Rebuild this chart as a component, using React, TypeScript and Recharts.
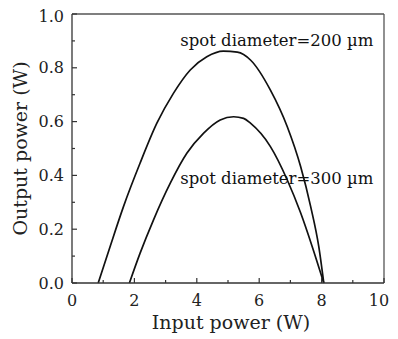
import { LineChart, Line, XAxis, YAxis, ReferenceLine, ReferenceDot } from "recharts"

// spot diameter = 200 µm
const inputA = [0.84, 1.22, 1.65, 2.18, 2.72, 3.25, 3.79, 4.32, 4.85, 5.3, 5.72, 6.36, 6.9, 7.33, 7.65, 7.91, 8.07]
const outputA = [0, 0.135, 0.284, 0.445, 0.594, 0.705, 0.792, 0.841, 0.862, 0.858, 0.829, 0.717, 0.581, 0.432, 0.284, 0.135, 0]

// spot diameter = 300 µm
const inputB = [1.84, 2.18, 2.61, 3.15, 3.68, 4.22, 4.75, 5.18, 5.5, 5.72, 6.36, 6.9, 7.33, 7.7, 8.07]
const outputB = [0, 0.11, 0.234, 0.371, 0.482, 0.557, 0.606, 0.618, 0.612, 0.594, 0.507, 0.383, 0.26, 0.135, 0]

const xTicks = [0, 1, 2, 3, 4, 5, 6, 7, 8, 9, 10]
const yTicks = [0, 0.1, 0.2, 0.3, 0.4, 0.5, 0.6, 0.7, 0.8, 0.9, 1.0]
const labelA = "spot diameter=200 µm"
const labelB = "spot diameter=300 µm"

const seriesA = inputA.map((x, i) => ({ x, y: outputA[i] }))
const seriesB = inputB.map((x, i) => ({ x, y: outputB[i] }))

const FONT = "'DejaVu Serif', serif"
const AXIS = "#333"

function XTick(props: any) {
  const { x, y, payload } = props
  const v = payload.value
  const major = v % 2 === 0
  // last label pulled in a bit so it stays inside the picture
  const tx = v === 10 ? x - 5 : x
  return (
    <g>
      <line x1={x} x2={x} y1={y} y2={y - (major ? 5 : 3)} stroke={AXIS} strokeWidth={1.2} />
      {major && (
        <text x={tx} y={y + 17} dy="0.35em" textAnchor="middle" fontFamily={FONT} fontSize={16} fill="#222">
          {v}
        </text>
      )}
    </g>
  )
}

function YTick(props: any) {
  const { x, y, payload } = props
  const v = payload.value
  const major = Math.round(v * 10) % 2 === 0
  // top label sits a little lower, like the original
  const ty = v === 1 ? y + 2 : y
  return (
    <g>
      <line x1={x} x2={x + (major ? 5 : 3)} y1={y} y2={y} stroke={AXIS} strokeWidth={1.2} />
      {major && (
        <text x={x - 8} y={ty} dy="0.35em" textAnchor="end" fontFamily={FONT} fontSize={16} fill="#222">
          {v.toFixed(1)}
        </text>
      )}
    </g>
  )
}

const annot = (text: string) => (props: any) => {
  const { x, y } = props.viewBox
  return (
    <text x={x} y={y} dy="0.35em" fontFamily={FONT} fontSize={16.5} fill="#111">
      {text}
    </text>
  )
}

export default function App() {
  return (
    <div style={{ width: 390, height: 331 }}>
      <LineChart width={390} height={331} margin={{ top: 6, right: 14, left: 0, bottom: 0 }}>
        <XAxis
          dataKey="x"
          type="number"
          domain={[0, 10]}
          ticks={xTicks}
          interval={0}
          height={56}
          tickSize={0}
          tickMargin={0}
          tickLine={false}
          axisLine={{ stroke: AXIS, strokeWidth: 1.3 }}
          tick={<XTick />}
          label={{
            content: (p: any) => {
              const vb = p.viewBox
              return (
                <text x={vb.x + vb.width / 2 + 3} y={vb.y + 46} textAnchor="middle" fontFamily={FONT} fontSize={19} fill="#222">
                  Input power (W)
                </text>
              )
            },
          }}
        />
        <YAxis
          type="number"
          domain={[0, 1]}
          ticks={yTicks}
          interval={0}
          width={64}
          tickSize={0}
          tickMargin={0}
          tickLine={false}
          axisLine={{ stroke: AXIS, strokeWidth: 1.3 }}
          tick={<YTick />}
          label={{
            content: (p: any) => {
              const vb = p.viewBox
              const cx = 12
              const cy = vb.y + vb.height / 2
              return (
                <text x={cx} y={cy} dy="0.35em" textAnchor="middle" transform={`rotate(-90 ${cx} ${cy})`} fontFamily={FONT} fontSize={19} fill="#222">
                  Output power (W)
                </text>
              )
            },
          }}
        />
        <ReferenceLine y={1} stroke="#555" strokeWidth={1.3} />
        <ReferenceLine x={10} stroke="#555" strokeWidth={1.3} />
        <Line data={seriesA} dataKey="y" type="monotone" stroke="#111" strokeWidth={1.7} dot={false} isAnimationActive={false} />
        <Line data={seriesB} dataKey="y" type="monotone" stroke="#111" strokeWidth={1.7} dot={false} isAnimationActive={false} />
        <ReferenceDot x={3.47} y={0.903} r={0} fill="none" stroke="none" label={{ content: annot(labelA) }} />
        <ReferenceDot x={3.47} y={0.39} r={0} fill="none" stroke="none" label={{ content: annot(labelB) }} />
      </LineChart>
    </div>
  )
}
